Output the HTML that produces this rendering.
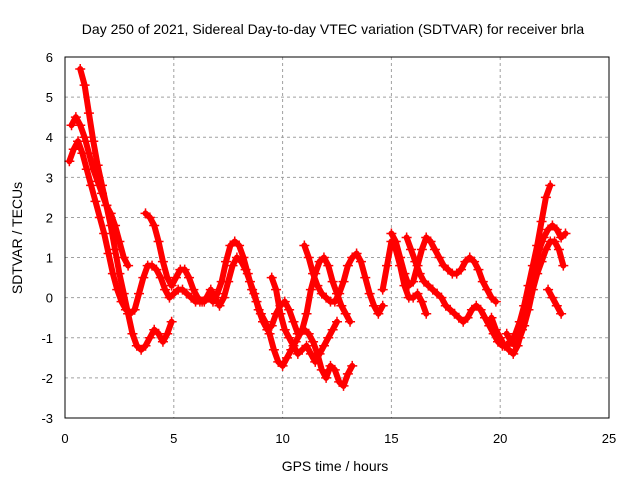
<!DOCTYPE html>
<html><head><meta charset="utf-8"><style>
html,body{margin:0;padding:0;background:#fff;}
svg{display:block;font-family:"Liberation Sans",sans-serif;}
</style></head><body>
<svg id="chart" width="640" height="480" viewBox="0 0 640 480">
<text x="333" y="34" font-size="14" text-anchor="middle">Day 250 of 2021, Sidereal Day-to-day VTEC variation (SDTVAR) for receiver brla</text>
<g id="grid"></g>
<g id="series"></g>
<rect x="65" y="57" width="544" height="361" fill="none" stroke="#000" stroke-width="1"/>
<g id="ticks"></g>
<text x="335" y="471" font-size="14" text-anchor="middle">GPS time / hours</text>
<text x="22" y="238" font-size="14" text-anchor="middle" transform="rotate(-90 22 238)">SDTVAR / TECUs</text>
</svg>
<script>
const xTicks=[0,5,10,15,20,25];
const yTicks=[-3,-2,-1,0,1,2,3,4,5,6];
const step=0.2;
const starts=[0.7,0.2,0.3,3.7,11.0,15.0,14.6,15.7,19.6,20.3,22.2,9.5];
const sA=[5.7,5.3,4.6,3.9,3.3,2.8,2.3,1.8,1.2,0.6,0.1,-0.4,-0.9,-1.2,-1.3,-1.2,-1.0,-0.8,-0.9,-1.1,-0.9,-0.6];
const sB=[3.4,3.7,3.9,3.6,3.2,2.8,2.4,2.0,1.6,1.1,0.6,0.2,-0.1,-0.3,-0.4,-0.3,0.1,0.5,0.8,0.8,0.7,0.5,0.2,0.0,0.1,0.2,0.2,0.1,0.0,-0.1,-0.1,-0.1,0.0,-0.1,0.1,0.4,0.9,1.3,1.4,1.3,1.0,0.6,0.2,-0.1,-0.4,-0.6,-0.9,-1.3,-1.6,-1.7,-1.5,-1.3,-1.1,-0.9,-0.8,-0.9,-1.1,-1.4,-1.8,-2.0,-1.7,-1.8,-2.1,-2.2,-1.9,-1.7];
const sC=[4.3,4.5,4.3,4.0,3.6,3.2,2.9,2.6,2.3,2.1,1.8,1.4,1.0,0.8];
const sD=[2.1,2.0,1.8,1.4,0.9,0.5,0.3,0.5,0.7,0.7,0.5,0.2,0.0,-0.1,0.0,0.2,0.0,-0.2,0.0,0.4,0.8,1.0,0.9,0.7,0.4,0.1,-0.3,-0.6,-0.8,-0.7,-0.4,-0.2,-0.1,-0.3,-0.6,-0.9,-0.8,-0.4,0.2,0.6,0.9,1.0,0.8,0.4,0.1,-0.2,-0.4,-0.6];
const sE=[1.3,1.0,0.6,0.3,0.1,0.0,-0.1,-0.1,0.1,0.4,0.8,1.0,1.1,0.9,0.5,0.1,-0.2,-0.4,-0.2];
const sF=[1.6,1.4,1.0,0.6,0.3,0.4,0.8,1.2,1.5,1.4,1.2,1.0,0.8,0.7,0.6,0.6,0.7,0.9,1.0,0.9,0.7,0.4,0.2,0.0,-0.1];
const sG=[0.2,0.8,1.4,1.2,0.8,0.3,0.0,0.0,0.1,-0.1,-0.4];
const sH=[1.5,1.2,0.9,0.6,0.4,0.3,0.2,0.1,0.0,-0.2,-0.3,-0.4,-0.5,-0.6,-0.5,-0.3,-0.2,-0.3,-0.5,-0.7,-0.9,-1.1,-1.2,-1.2,-1.1,-0.9,-0.6,-0.2,0.3,0.8,1.3,1.9,2.5,2.8];
const sI=[-0.5,-0.8,-1.0,-1.2,-1.3,-1.4,-1.2,-0.8,-0.3,0.3,0.8,1.2,1.5,1.7,1.8,1.7,1.5,1.6];
const sJ=[-0.9,-1.1,-1.2,-1.0,-0.7,-0.3,0.2,0.6,0.9,1.2,1.4,1.4,1.2,0.8];
const sK=[0.2,0.0,-0.2,-0.4];
const sL=[0.5,0.2,-0.4,-0.8,-1.0,-1.2,-1.4,-1.3,-1.2,-1.4,-1.6,-1.4,-1.2,-1.0,-0.8,-0.6];
const seriesList=[sA,sB,sC,sD,sE,sF,sG,sH,sI,sJ,sK,sL];

const NS="http://www.w3.org/2000/svg";
const X0=65,X1=609,Y0=418,Y1=57;
function xs(t){return X0+(t-0)/(25-0)*(X1-X0);}
function ys(v){return Y0-(v+3)/(6+3)*(Y0-Y1);}
const grid=document.getElementById('grid'),ticks=document.getElementById('ticks'),sg=document.getElementById('series');
function mk(tag,attrs,parent){const e=document.createElementNS(NS,tag);for(const k in attrs)e.setAttribute(k,attrs[k]);parent.appendChild(e);return e;}
xTicks.forEach(t=>{
  const x=xs(t);
  if(t>0&&t<25){const g=mk('line',{x1:x,y1:Y1,x2:x,y2:Y0,stroke:'#a0a0a0','stroke-dasharray':'3,3'},grid);
  
  }
  const l=mk('text',{x:x,y:443,'font-size':13,'text-anchor':'middle'},ticks);l.textContent=t;
  
  
});
yTicks.forEach(v=>{
  const y=ys(v);
  if(v>-3&&v<6){const g=mk('line',{x1:X0,y1:y,x2:X1,y2:y,stroke:'#a0a0a0','stroke-dasharray':'3,3'},grid);
  
  }
  const l=mk('text',{x:53,y:y+5,'font-size':13,'text-anchor':'end'},ticks);l.textContent=v;
  
  
});
seriesList.forEach((arr,i)=>{
  const pts=arr.map((v,j)=>[xs(starts[i]+j*step),ys(v)]);
  const pl=mk('polyline',{points:pts.map(p=>p.join(',')).join(' '),fill:'none',stroke:'#ff0000','stroke-width':6,'stroke-linejoin':'round','stroke-linecap':'round'},sg);
  
  
  pts.forEach(p=>{
    const m=mk('path',{d:`M${p[0]-5},${p[1]}h10M${p[0]},${p[1]-5}v10`,stroke:'#ff0000','stroke-width':1.5},sg);
    
    
  });
});
</script>
</body></html>
